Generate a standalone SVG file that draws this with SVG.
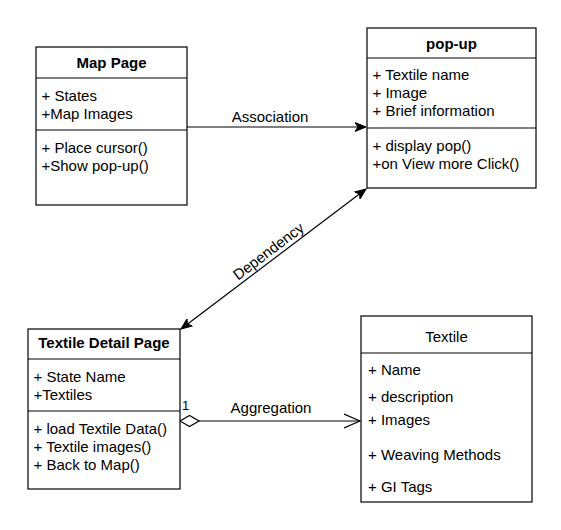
<svg xmlns="http://www.w3.org/2000/svg" width="561" height="530" viewBox="0 0 561 530">
  <defs>
    <style>
      .box { fill: #ffffff; stroke: #000000; stroke-width: 1.2; }
      .sep { stroke: #000000; stroke-width: 1.2; }
      .t { font-family: "Liberation Sans", Arial, sans-serif; font-size: 15px; fill: #000000; }
      .h { font-family: "Liberation Sans", Arial, sans-serif; font-size: 15px; font-weight: bold; fill: #000000; text-anchor: middle; }
      .hn { font-family: "Liberation Sans", Arial, sans-serif; font-size: 15px; fill: #000000; text-anchor: middle; }
      .lbl { font-family: "Liberation Sans", Arial, sans-serif; font-size: 15px; fill: #000000; text-anchor: middle; }
      .edge { fill: none; stroke: #000000; stroke-width: 1.2; }
    </style>
    <marker id="arrow" viewBox="0 0 12 10" refX="11" refY="5" markerWidth="12" markerHeight="10" markerUnits="userSpaceOnUse" orient="auto-start-reverse">
      <path d="M0,0.5 L11,5 L0,9.5 L3,5 Z" fill="#000000" stroke="#000000" stroke-width="1"/>
    </marker>
    <marker id="open" viewBox="0 0 18 16" refX="16.5" refY="8" markerWidth="18" markerHeight="16" markerUnits="userSpaceOnUse" orient="auto">
      <path d="M0.5,1 L16.5,8 L0.5,15" fill="none" stroke="#000000" stroke-width="1.2"/>
    </marker>
    <marker id="diamond" viewBox="0 0 22 14" refX="1" refY="7" markerWidth="22" markerHeight="14" markerUnits="userSpaceOnUse" orient="auto">
      <path d="M1,7 L10.5,1.5 L20,7 L10.5,12.5 Z" fill="#ffffff" stroke="#000000" stroke-width="1.2"/>
    </marker>
  </defs>

  <g id="connectors">
    <g id="association">
      <line class="edge" x1="187" y1="127" x2="366" y2="127" marker-end="url(#arrow)"/>
      <text class="lbl" x="270" y="122">Association</text>
    </g>
    <g id="dependency">
      <line class="edge" x1="181" y1="329" x2="366" y2="189" marker-start="url(#arrow)" marker-end="url(#arrow)"/>
      <text class="lbl" transform="translate(274,258.5) rotate(-37.2)" x="0" y="-4">Dependency</text>
    </g>
    <g id="aggregation">
      <line class="edge" x1="180" y1="421" x2="360" y2="421" marker-start="url(#diamond)" marker-end="url(#open)"/>
      <text class="t" x="182" y="410" style="font-size:13px">1</text>
      <text class="lbl" x="271" y="413">Aggregation</text>
    </g>
  </g>

  <g id="map-page">
    <rect class="box" x="36" y="47" width="151" height="158"/>
    <line class="sep" x1="36" y1="78" x2="187" y2="78"/>
    <line class="sep" x1="36" y1="130" x2="187" y2="130"/>
    <text class="h" x="111.5" y="68">Map Page</text>
    <text class="t" x="41.5" y="101">+ States</text>
    <text class="t" x="41.5" y="119">+Map Images</text>
    <text class="t" x="41.5" y="153">+ Place cursor()</text>
    <text class="t" x="41.5" y="171">+Show pop-up()</text>
  </g>

  <g id="pop-up">
    <rect class="box" x="367" y="28" width="169" height="160"/>
    <line class="sep" x1="367" y1="58" x2="536" y2="58"/>
    <line class="sep" x1="367" y1="128" x2="536" y2="128"/>
    <text class="h" x="451.5" y="49">pop-up</text>
    <text class="t" x="372.5" y="80">+ Textile name</text>
    <text class="t" x="372.5" y="98">+ Image</text>
    <text class="t" x="372.5" y="116">+ Brief information</text>
    <text class="t" x="372.5" y="151">+ display pop()</text>
    <text class="t" x="372.5" y="169">+on View more Click()</text>
  </g>

  <g id="textile-detail-page">
    <rect class="box" x="28" y="329" width="152" height="160"/>
    <line class="sep" x1="28" y1="359" x2="180" y2="359"/>
    <line class="sep" x1="28" y1="411" x2="180" y2="411"/>
    <text class="h" x="104" y="348">Textile Detail Page</text>
    <text class="t" x="33.5" y="382">+ State Name</text>
    <text class="t" x="33.5" y="400">+Textiles</text>
    <text class="t" x="33.5" y="434">+ load Textile Data()</text>
    <text class="t" x="33.5" y="452">+ Textile images()</text>
    <text class="t" x="33.5" y="470">+ Back to Map()</text>
  </g>

  <g id="textile">
    <rect class="box" x="361" y="316" width="171" height="186"/>
    <line class="sep" x1="361" y1="353" x2="532" y2="353"/>
    <text class="hn" x="446.5" y="342">Textile</text>
    <text class="t" x="368" y="375">+ Name</text>
    <text class="t" x="368" y="402">+ description</text>
    <text class="t" x="368" y="425">+ Images</text>
    <text class="t" x="368" y="460">+ Weaving Methods</text>
    <text class="t" x="368" y="492">+ GI Tags</text>
  </g>
</svg>
